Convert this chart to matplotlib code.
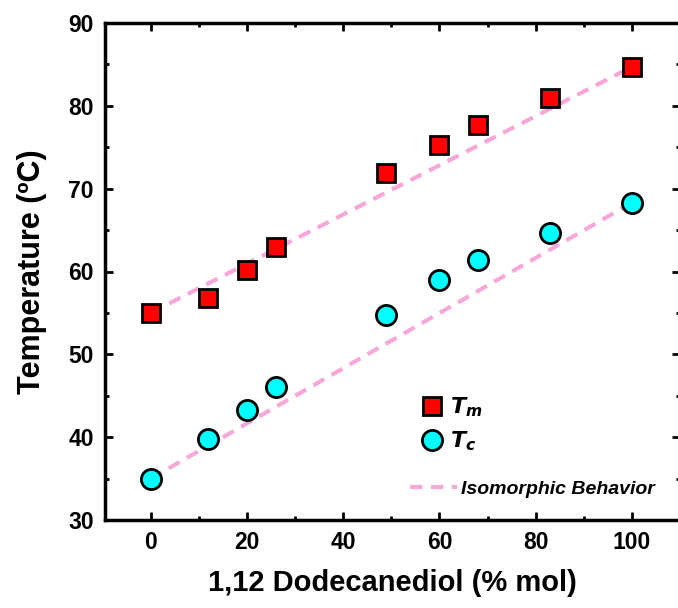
import matplotlib

matplotlib.use("Agg")
import matplotlib.pyplot as plt
from matplotlib.ticker import MultipleLocator

# 1,12 dodecanediol content (% mol)
composition = [0, 12, 20, 26, 49, 60, 68, 83, 100]
# melting and crystallization temperatures (degC)
t_melt = [55.0, 56.8, 60.2, 62.9, 71.9, 75.3, 77.7, 80.9, 84.7]
t_cryst = [35.0, 39.8, 43.3, 46.0, 54.8, 59.0, 61.4, 64.7, 68.3]

plt.rcParams["font.family"] = ["Liberation Sans", "DejaVu Sans"]
plt.rcParams["font.weight"] = "bold"

fig = plt.figure(figsize=(6.78, 6.08), dpi=100)
ax = fig.add_axes([105 / 678, (608 - 520) / 608, (680 - 105) / 678, (520 - 23) / 608])

pink = "#f7a8d8"
# ideal mixing lines between the pure components
ax.plot([composition[0], composition[-1]], [t_melt[0], t_melt[-1]],
        linestyle=(0, (3, 2)), color=pink, linewidth=3, zorder=1)
ax.plot([composition[0], composition[-1]], [t_cryst[0], t_cryst[-1]],
        linestyle=(0, (3, 2)), color=pink, linewidth=3, zorder=1)

sq = ax.plot(composition, t_melt, linestyle="none", marker="s", markersize=13,
             markerfacecolor="#ff0000", markeredgecolor="black",
             markeredgewidth=2, zorder=3)[0]
ci = ax.plot(composition, t_cryst, linestyle="none", marker="o", markersize=14.5,
             markerfacecolor="#00ffff", markeredgecolor="black",
             markeredgewidth=2, zorder=3)[0]

ax.set_xlim(-9.5, 110)
ax.set_ylim(30, 90)
ax.xaxis.set_major_locator(MultipleLocator(20))
ax.xaxis.set_minor_locator(MultipleLocator(10))
ax.yaxis.set_major_locator(MultipleLocator(10))
ax.yaxis.set_minor_locator(MultipleLocator(5))
ax.tick_params(which="both", direction="in", top=True, right=True, width=2)
ax.tick_params(which="major", length=6, labelsize=16.5, pad=8)
ax.tick_params(which="minor", length=3)
for spine in ax.spines.values():
    spine.set_linewidth(2.5)
for label in ax.get_xticklabels() + ax.get_yticklabels():
    label.set_fontweight("bold")

ax.set_xlabel("1,12 Dodecanediol (% mol)", fontsize=21, fontweight="bold", labelpad=11)
ax.set_ylabel("Temperature (ºC)", fontsize=22, fontweight="bold", labelpad=15)

leg1 = ax.legend([sq, ci], [r"$\mathbf{\mathit{T_m}}$", r"$\mathbf{\mathit{T_c}}$"],
                 loc="upper left", bbox_to_anchor=(0.515, 0.29), frameon=False,
                 fontsize=16, handletextpad=0.3, labelspacing=0.45,
                 handlelength=1.0)
ax.add_artist(leg1)
iso, = ax.plot([], [], linestyle=(0, (3, 2)), color=pink, linewidth=3)
leg2 = ax.legend([iso], ["Isomorphic Behavior"], loc="upper left",
                 bbox_to_anchor=(0.5, 0.115), frameon=False,
                 prop={"size": 14, "weight": "bold", "style": "italic"},
                 handletextpad=0.2, handlelength=2.4)

fig.savefig("out.png", dpi=100)
